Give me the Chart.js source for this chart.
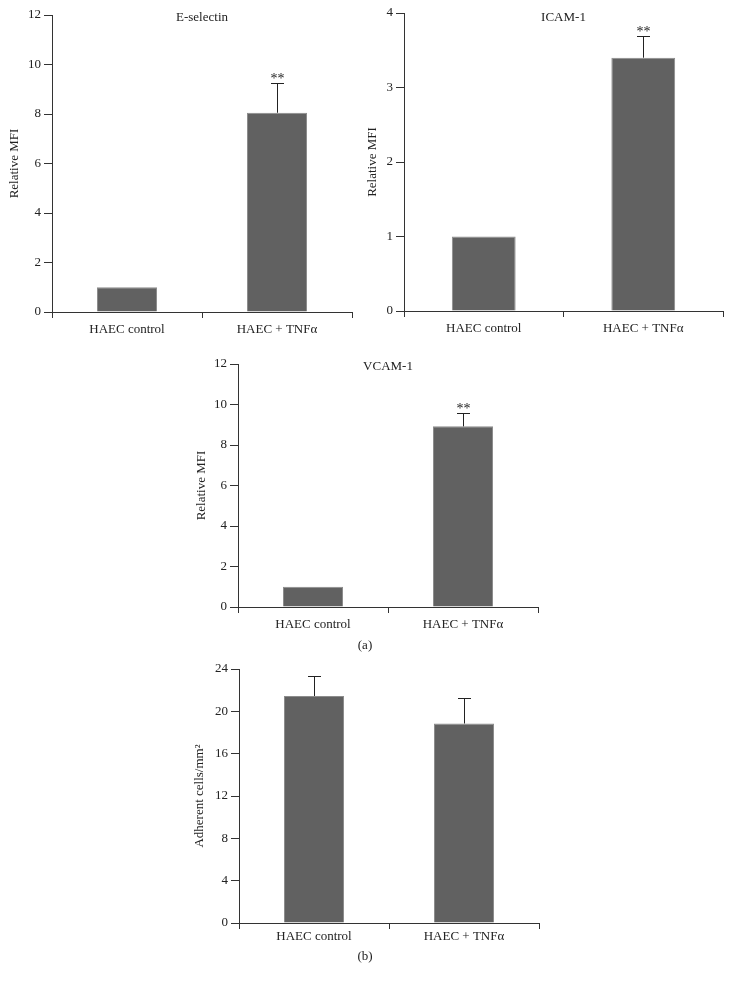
<!DOCTYPE html>
<html>
<head>
<meta charset="utf-8">
<script src="https://cdn.jsdelivr.net/npm/chart.js@4.4.1/dist/chart.umd.min.js"></script>
<style>
  body { margin: 0; background: #fff; }
  #page { position: relative; width: 733px; height: 983px; font-family: "Liberation Serif", serif; }
  canvas { position: absolute; }
  .cap { position: absolute; font-size: 13px; color: #222; transform: translateX(-50%); }
</style>
</head>
<body>
<div id="page">
  <canvas id="eSel" width="360" height="345" style="left:0;top:0"></canvas>
  <canvas id="icam" width="370" height="345" style="left:360px;top:0"></canvas>
  <canvas id="vcam" width="360" height="300" style="left:190px;top:350px"></canvas>
  <canvas id="adh" width="360" height="300" style="left:190px;top:655px"></canvas>
  <div class="cap" style="left:365px;top:637px">(a)</div>
  <div class="cap" style="left:365px;top:948px">(b)</div>
</div>
<script>
// data
const categories = ['HAEC control', 'HAEC + TNFα'];

const eSelectinMean = [1, 8.05];
const eSelectinErr  = [0, 1.22];
const icamMean = [1, 3.4];
const icamErr  = [0, 0.29];
const vcamMean = [1, 8.92];
const vcamErr  = [0, 0.64];
const adhesionMean = [21.45, 18.85];
const adhesionErr  = [1.85, 2.4];
const stars = ['', '**'];

const FONT = '"Liberation Serif", serif';
const INK = '#333';

// error bars, asterisks and the little panel title
const extras = {
    id: 'extras',
    afterDatasetsDraw(chart, args, opts) {
        const ctx = chart.ctx;
        const x = chart.scales.x, y = chart.scales.y;
        const area = chart.chartArea;
        ctx.save();
        ctx.strokeStyle = '#222';
        ctx.lineWidth = 1;
        opts.mean.forEach((m, i) => {
            const px = Math.round(x.getPixelForValue(i)) + 0.5;
            if (opts.err[i] > 0) {
                const y0 = y.getPixelForValue(m);
                const y1 = Math.round(y.getPixelForValue(m + opts.err[i])) + 0.5;
                ctx.beginPath();
                ctx.moveTo(px, y0);
                ctx.lineTo(px, y1);
                ctx.moveTo(px - 6.5, y1);
                ctx.lineTo(px + 6.5, y1);
                ctx.stroke();
                if (opts.stars && opts.stars[i]) {
                    ctx.fillStyle = '#222';
                    ctx.font = '14px ' + FONT;
                    ctx.textAlign = 'center';
                    ctx.textBaseline = 'alphabetic';
                    ctx.fillText(opts.stars[i], px, y1 - 1);
                }
            }
        });
        if (opts.title) {
            ctx.fillStyle = '#222';
            ctx.font = '13px ' + FONT;
            ctx.textAlign = 'center';
            ctx.textBaseline = 'middle';
            ctx.fillText(opts.title, (area.left + area.right) / 2, area.top + opts.titleDy);
        }
        ctx.restore();
    }
};

const setupChart = (id, cfg) => {
    new Chart(document.getElementById(id), {
        type: 'bar',
        data: {
            labels: categories,
            datasets: [{
                data: cfg.mean,
                backgroundColor: '#616161',
                borderColor: '#8c8c8c',
                borderWidth: 1,
                barPercentage: 0.4,
                categoryPercentage: 1
            }]
        },
        options: {
            responsive: false,
            animation: false,
            layout: { padding: cfg.padding },
            plugins: {
                legend: { display: false },
                tooltip: { enabled: false },
                extras: { mean: cfg.mean, err: cfg.err, stars: cfg.stars, title: cfg.title, titleDy: cfg.titleDy || 3 }
            },
            scales: {
                x: {
                    grid: { offset: true, drawOnChartArea: false, tickLength: 6, color: INK },
                    border: { color: INK },
                    ticks: { color: '#222', font: { family: FONT, size: 13 }, padding: cfg.xPad, maxRotation: 0 },
                    afterFit: s => { s.height = cfg.xH; }
                },
                y: {
                    min: 0, max: cfg.max,
                    grid: { drawOnChartArea: false, tickLength: 8, color: INK },
                    border: { color: INK },
                    ticks: { stepSize: cfg.step, color: '#222', font: { family: FONT, size: 13 }, padding: 3 },
                    title: {
                        display: true, text: cfg.yTitle, color: '#222',
                        font: { family: FONT, size: 13 }, padding: { top: cfg.tPad, bottom: 0 }
                    },
                    afterFit: s => { s.width = cfg.yW; }
                }
            }
        },
        plugins: [extras]
    });
};

setupChart('eSel', { mean: eSelectinMean, err: eSelectinErr, stars: stars, title: 'E-selectin', titleDy: 3,
    max: 12, step: 2, yTitle: 'Relative MFI', padding: { left: 0, top: 15, right: 8, bottom: 0 },
    yW: 52, xH: 33, xPad: 4, tPad: 7 });
setupChart('icam', { mean: icamMean, err: icamErr, stars: stars, title: 'ICAM-1', titleDy: 5,
    max: 4, step: 1, yTitle: 'Relative MFI', padding: { left: 0, top: 13, right: 7, bottom: 0 },
    yW: 44, xH: 34, xPad: 4, tPad: 5 });
setupChart('vcam', { mean: vcamMean, err: vcamErr, stars: stars, title: 'VCAM-1', titleDy: 3,
    max: 12, step: 2, yTitle: 'Relative MFI', padding: { left: 0, top: 14, right: 12, bottom: 0 },
    yW: 48, xH: 43, xPad: 4, tPad: 4 });
setupChart('adh', { mean: adhesionMean, err: adhesionErr, stars: null, title: '',
    max: 24, step: 4, yTitle: 'Adherent cells/mm²', padding: { left: 0, top: 14, right: 11, bottom: 0 },
    yW: 49, xH: 32, xPad: 0, tPad: 2 });
</script>
</body>
</html>
